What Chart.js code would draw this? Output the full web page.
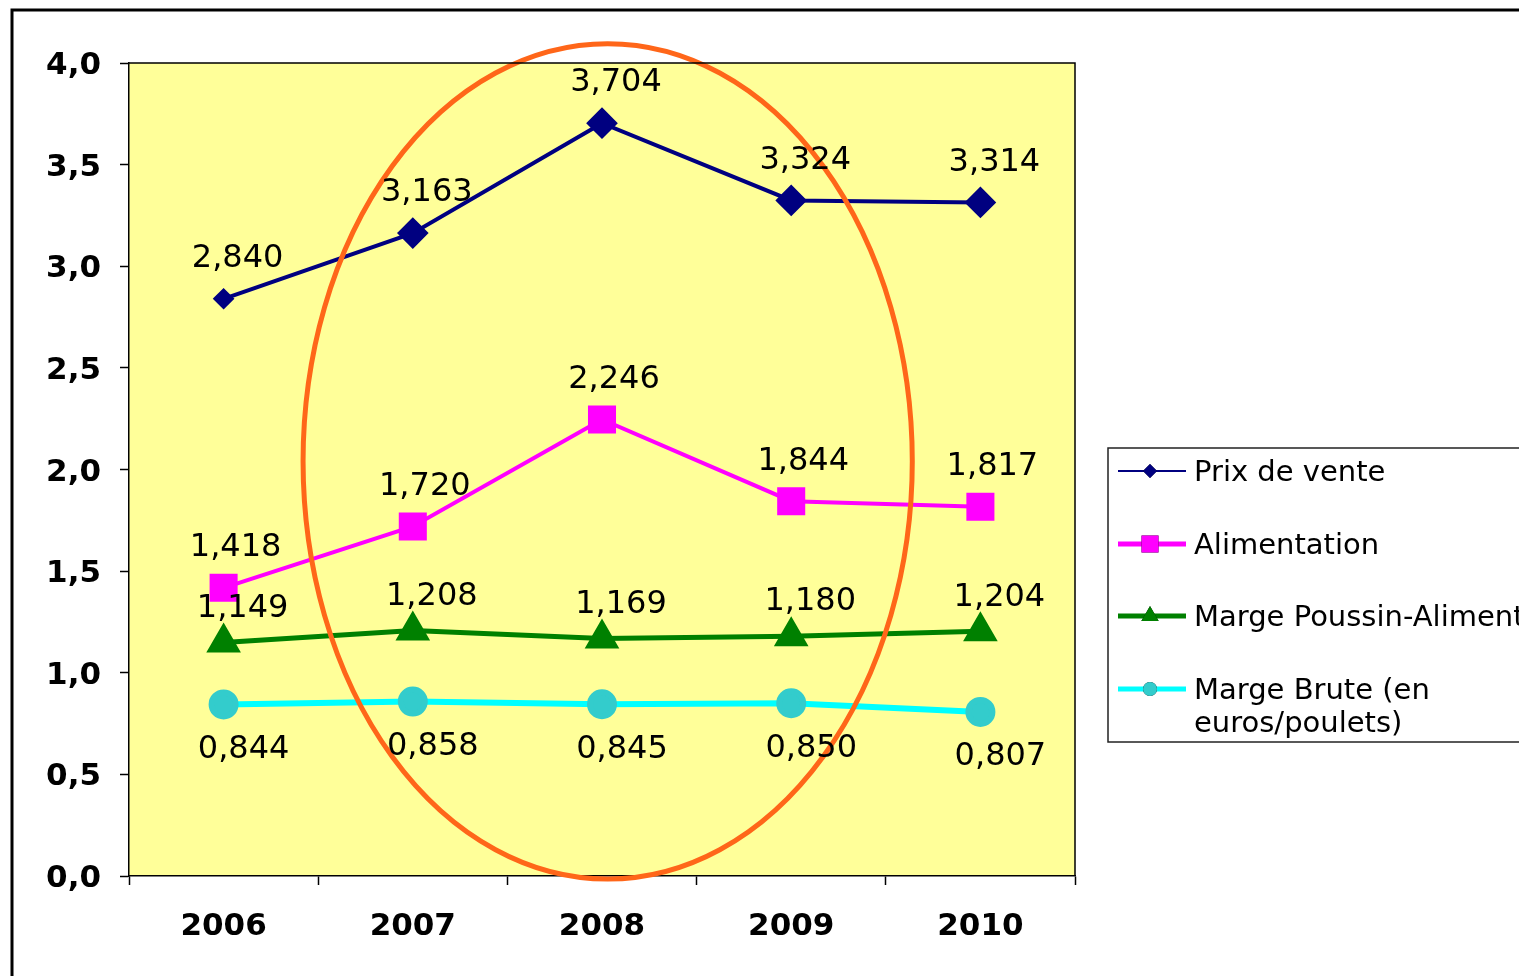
<!DOCTYPE html>
<html>
<head>
<meta charset="utf-8">
<script src="https://cdn.jsdelivr.net/npm/chart.js@4.4.1/dist/chart.umd.min.js"></script>
<style>
  html, body { margin: 0; padding: 0; background: #fff; }
  #wrap { width: 1519px; height: 976px; }
</style>
</head>
<body>
<div id="wrap"><canvas id="myChart"></canvas></div>
<script>
// data
var years = ["2006", "2007", "2008", "2009", "2010"];
var prixVente = [2.840, 3.163, 3.704, 3.324, 3.314];
var alimentation = [1.418, 1.720, 2.246, 1.844, 1.817];
var margePoussin = [1.149, 1.208, 1.169, 1.180, 1.204];
var margeBrute = [0.844, 0.858, 0.845, 0.850, 0.807];
var yTicks = [0, 0.5, 1, 1.5, 2, 2.5, 3, 3.5, 4];

function fr(v, d) {
    return v.toFixed(d).replace('.', ',');
}

// plot frame, yellow background, outer border
var framePlugin = {
    id: 'frame',
    beforeDraw: function(chart) {
        var ctx = chart.ctx, a = chart.chartArea;
        ctx.save();
        ctx.fillStyle = '#FFFF99';
        ctx.fillRect(a.left, a.top, a.right - a.left, a.bottom - a.top);
        ctx.restore();
    },
    afterDraw: function(chart) {
        var ctx = chart.ctx, a = chart.chartArea;
        ctx.save();
        ctx.strokeStyle = '#000';
        ctx.lineWidth = 1.5;
        ctx.beginPath();
        ctx.moveTo(a.left, a.top);
        ctx.lineTo(a.right, a.top);
        ctx.lineTo(a.right, a.bottom);
        ctx.stroke();
        ctx.lineWidth = 3;
        ctx.strokeRect(12, 10, 1600, 1100);
        ctx.restore();
    }
};

// value labels next to points
var labelPlugin = {
    id: 'valueLabels',
    afterDatasetsDraw: function(chart) {
        var ctx = chart.ctx;
        ctx.save();
        ctx.font = '32px "DejaVu Sans"';
        ctx.fillStyle = '#000';
        ctx.textAlign = 'center';
        ctx.textBaseline = 'middle';
        chart.data.datasets.forEach(function(ds, i) {
            var meta = chart.getDatasetMeta(i);
            meta.data.forEach(function(pt, j) {
                ctx.fillText(fr(ds.data[j], 3), pt.x + ds.labelDx, pt.y + ds.labelDy);
            });
        });
        ctx.restore();
    }
};

// orange ellipse around 2007-2009
var ellipsePlugin = {
    id: 'ellipse',
    afterDatasetsDraw: function(chart) {
        var x = chart.scales.x, y = chart.scales.y, ctx = chart.ctx;
        var cx = x.getPixelForValue(2.03);
        var cy = y.getPixelForValue(2.04);
        var rx = x.getPixelForValue(1.61) - x.getPixelForValue(0);
        var ry = y.getPixelForValue(0) - y.getPixelForValue(2.055);
        ctx.save();
        ctx.strokeStyle = '#FF6619';
        ctx.lineWidth = 5;
        ctx.beginPath();
        ctx.ellipse(cx, cy, rx, ry, 0, 0, Math.PI * 2);
        ctx.stroke();
        ctx.restore();
    }
};

// boxed legend on the right
var legendPlugin = {
    id: 'boxLegend',
    afterDraw: function(chart) {
        var ctx = chart.ctx;
        var left = 1108, top = 448, bottom = 742;
        var rows = [471, 544, 616, 689];
        ctx.save();
        ctx.strokeStyle = '#222';
        ctx.lineWidth = 1.5;
        ctx.strokeRect(left, top, 600, bottom - top);
        ctx.font = '29px "DejaVu Sans"';
        ctx.fillStyle = '#000';
        ctx.textBaseline = 'middle';
        ctx.textAlign = 'left';
        chart.data.datasets.forEach(function(ds, i) {
            var yy = rows[i];
            ctx.strokeStyle = ds.borderColor;
            ctx.lineWidth = ds.legendLine;
            ctx.beginPath();
            ctx.moveTo(1118, yy);
            ctx.lineTo(1186, yy);
            ctx.stroke();
            Chart.helpers.drawPoint(ctx, {
                pointStyle: ds.pointStyle,
                radius: ds.legendRadius,
                rotation: 0,
                borderWidth: 0
            }, 1150, yy);
            ctx.fillStyle = ds.pointBackgroundColor;
            ctx.fill();
            ctx.fillStyle = '#000';
            ds.legendText.forEach(function(t, k) {
                ctx.fillText(t, 1194, yy + 2 + k * 33);
            });
        });
        ctx.restore();
    }
};

new Chart("myChart", {
    type: "line",
    data: {
        labels: years,
        datasets: [{
            label: "Prix de vente",
            data: prixVente,
            borderColor: "#000080",
            backgroundColor: "#000080",
            pointBackgroundColor: "#000080",
            pointBorderColor: "#000080",
            borderWidth: 4,
            pointStyle: "rectRot",
            pointRadius: [8, 13, 13, 13, 13],
            labelDx: 14, labelDy: -40,
            legendLine: 2, legendRadius: 7,
            legendText: ["Prix de vente"]
        }, {
            label: "Alimentation",
            data: alimentation,
            borderColor: "#FF00FF",
            backgroundColor: "#FF00FF",
            pointBackgroundColor: "#FF00FF",
            pointBorderColor: "#FF00FF",
            borderWidth: 4,
            pointStyle: "rect",
            pointRadius: 17,
            labelDx: 12, labelDy: -40,
            legendLine: 5, legendRadius: 12,
            legendText: ["Alimentation"]
        }, {
            label: "Marge Poussin-Aliment",
            data: margePoussin,
            borderColor: "#008000",
            backgroundColor: "#008000",
            pointBackgroundColor: "#008000",
            pointBorderColor: "#008000",
            borderWidth: 5,
            pointStyle: "triangle",
            pointRadius: 15,
            labelDx: 19, labelDy: -34,
            legendLine: 5, legendRadius: 10,
            legendText: ["Marge Poussin-Aliment"]
        }, {
            label: "Marge Brute (en euros/poulets)",
            data: margeBrute,
            borderColor: "#00FFFF",
            backgroundColor: "#33CCCC",
            pointBackgroundColor: "#33CCCC",
            pointBorderColor: "#33CCCC",
            borderWidth: 6,
            pointStyle: "circle",
            pointRadius: 12,
            labelDx: 20, labelDy: 45,
            legendLine: 5, legendRadius: 7,
            legendText: ["Marge Brute (en", "euros/poulets)"]
        }]
    },
    options: {
        responsive: true,
        maintainAspectRatio: false,
        animation: false,
        layout: { padding: { top: 63, right: 444, bottom: 0, left: 0 } },
        plugins: {
            legend: { display: false },
            tooltip: { enabled: false },
            title: { display: false }
        },
        scales: {
            x: {
                offset: true,
                grid: {
                    offset: true,
                    drawOnChartArea: false,
                    drawTicks: true,
                    tickLength: 9,
                    tickColor: '#000',
                    tickWidth: 1.5
                },
                border: { color: '#000', width: 1.5 },
                ticks: {
                    color: '#000',
                    padding: 23,
                    font: { family: 'DejaVu Sans', size: 31, weight: 'bold' }
                },
                afterFit: function(s) { s.height = 100; }
            },
            y: {
                min: 0,
                max: 4,
                afterBuildTicks: function(s) {
                    s.ticks = yTicks.map(function(v) { return { value: v }; });
                },
                grid: {
                    drawOnChartArea: false,
                    tickLength: 9,
                    tickColor: '#000',
                    tickWidth: 1.5
                },
                border: { color: '#000', width: 1.5 },
                ticks: {
                    color: '#000',
                    padding: 19,
                    labelOffset: 3,
                    font: { family: 'DejaVu Sans', size: 31, weight: 'bold' },
                    callback: function(v) { return fr(v, 1); }
                },
                afterFit: function(s) { s.width = 129; }
            }
        }
    },
    plugins: [framePlugin, ellipsePlugin, labelPlugin, legendPlugin]
});
</script>
</body>
</html>
